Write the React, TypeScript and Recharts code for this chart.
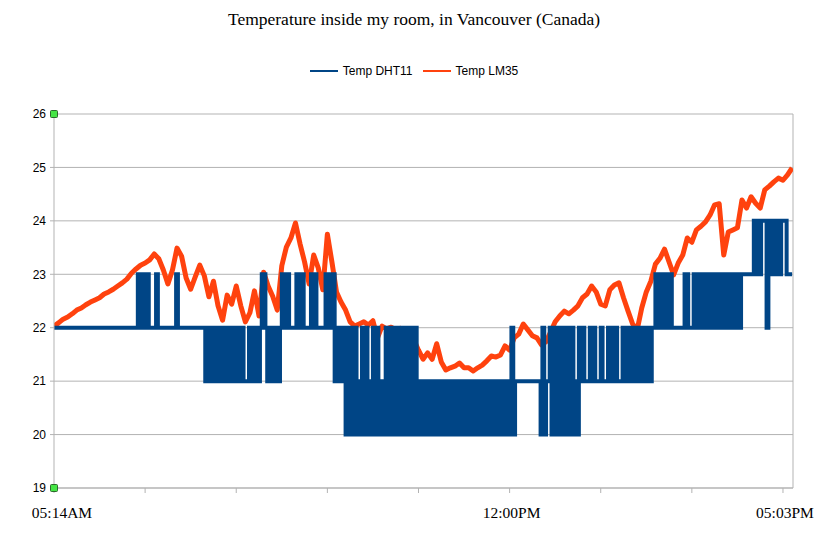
import {
  CartesianGrid,
  Line,
  LineChart,
  ReferenceDot,
  ReferenceLine,
  XAxis,
  YAxis,
} from "recharts";

const TITLE = "Temperature inside my room, in Vancouver (Canada)";
const SERIES_NAMES = ["Temp DHT11", "Temp LM35"];
const SERIES_COLORS = ["#004586", "#ff420e"];

// x positions are sample indexes along the category axis (0 = 05:14AM)
const X_TICKS = [0, 100, 200, 300, 400, 500, 600, 700, 800];
const X_TICK_LABELS = ["05:14AM", "", "", "", "", "12:00PM", "", "", "05:03PM"];
const Y_TICKS = [19, 20, 21, 22, 23, 24, 25, 26];

// DHT11 readings, one digit per sample (every 2 index units), value = 20 + digit
const DHT11_READINGS = [
  "2222222222222222222222222222222222222222222222",
  "33", "2", "3232", "222", "3", "2222222222", "3", "222222222222222",
  "121212121", "22", "1212121212", "111", "2121212", "33", "2", "12121212",
  "3", "2", "33", "2222", "33", "2", "3", "2222", "323", "22222", "32323",
  "121212", "020202", "101", "202", "010", "2020", "101", "20202020202020202",
  "1010101010101010101010101010101010101010101010101010",
  "2", "0", "11111111111111", "020", "11", "2020202020202", "010",
  "2121", "11", "2121", "11", "21", "11", "212121", "11", "21212121212121212",
  "2", "323232323", "2222222", "33", "222", "323232323232323232323232323",
  "333333", "44", "33", "444", "2", "44", "3", "44", "33", "444", "3333",
];
const DHT11_STEP = 2;

// LM35 readings, one value every 5 index units
const LM35_READINGS = [
  22.03, 22.09, 22.16, 22.2, 22.26, 22.33, 22.37, 22.43, 22.48, 22.52,
  22.56, 22.63, 22.67, 22.72, 22.78, 22.84, 22.91, 23.02, 23.1, 23.17,
  23.21, 23.27, 23.38, 23.29, 23.08, 22.82, 23.08, 23.49, 23.34, 22.93,
  22.72, 22.95, 23.17, 22.97, 22.58, 22.87, 22.41, 22.14, 22.61, 22.44,
  22.78, 22.41, 22.11, 22.28, 22.69, 22.22, 23.04, 22.78, 22.59, 22.33,
  23.16, 23.51, 23.68, 23.96, 23.57, 23.23, 22.82, 23.36, 23.12, 22.71,
  23.75, 23.23, 22.67, 22.48, 22.33, 22.11, 22.03, 22.07, 22.11, 22.05,
  22.13, 21.81, 22.03, 21.98, 22.01, 21.96, 21.99, 21.92, 21.88, 21.77,
  21.58, 21.41, 21.53, 21.41, 21.7, 21.36, 21.21, 21.25, 21.28, 21.34,
  21.25, 21.25, 21.19, 21.25, 21.3, 21.38, 21.47, 21.45, 21.49, 21.66,
  21.58, 21.81, 21.88, 22.07, 21.96, 21.85, 21.81, 21.68, 21.74, 21.92,
  22.11, 22.22, 22.31, 22.26, 22.33, 22.41, 22.56, 22.63, 22.78, 22.67,
  22.44, 22.41, 22.71, 22.8, 22.84, 22.56, 22.31, 22.07, 21.96, 22.37,
  22.67, 22.87, 23.19, 23.3, 23.47, 23.23, 22.99, 23.21, 23.36, 23.68,
  23.6, 23.83, 23.9, 23.98, 24.11, 24.3, 24.32, 23.36, 23.79, 23.83,
  23.87, 24.39, 24.24, 24.45, 24.33, 24.24, 24.58, 24.65, 24.73, 24.8,
  24.76, 24.86, 24.99,
];
const LM35_STEP = 5;

const dht11Data = DHT11_READINGS.join("")
  .split("")
  .map((d, i) => ({ x: i * DHT11_STEP, temp: 20 + Number(d) }));
const lm35Data = LM35_READINGS.map((v, i) => ({ x: i * LM35_STEP, temp: v }));

const GRID = "#b3b3b3";
const SANS = "'Liberation Sans', Arial, sans-serif";
const SERIF = "'Liberation Serif', 'Times New Roman', serif";

function XTick({ x, y, payload }: any) {
  const idx = X_TICKS.indexOf(payload.value);
  const label = X_TICK_LABELS[idx] ?? "";
  const shift = idx === 0 ? 8 : 2;
  return (
    <text
      x={x + shift}
      y={y}
      dy={23}
      textAnchor="middle"
      fontFamily={SERIF}
      fontSize={15.5}
      fill="#000"
    >
      {label}
    </text>
  );
}

function Marker({ cx, cy }: any) {
  return (
    <rect
      x={cx - 3.5}
      y={cy - 3.5}
      width={7}
      height={7}
      rx={1}
      fill="#45e545"
      stroke="#2b6b2b"
      strokeWidth={1}
    />
  );
}

export default function App() {
  return (
    <div
      style={{
        position: "absolute",
        left: 0,
        top: 0,
        width: 828,
        height: 539,
        background: "#fff",
      }}
    >
      <div
        style={{
          position: "absolute",
          top: 9,
          left: 0,
          width: 828,
          textAlign: "center",
          fontFamily: SERIF,
          fontSize: 17.5,
          color: "#000",
        }}
      >
        {TITLE}
      </div>
      <div
        style={{
          position: "absolute",
          top: 64,
          left: 0,
          width: 828,
          display: "flex",
          justifyContent: "center",
          gap: 10,
          fontFamily: SANS,
          fontSize: 12,
          color: "#000",
        }}
      >
        {SERIES_NAMES.map((name, i) => (
          <span key={name} style={{ display: "flex", alignItems: "center" }}>
            <span
              style={{
                display: "inline-block",
                width: 28,
                height: 2,
                background: SERIES_COLORS[i],
                marginRight: 5,
              }}
            />
            {name}
          </span>
        ))}
      </div>
      <LineChart
        width={828}
        height={539}
        margin={{ top: 114, right: 35, left: 10, bottom: 21 }}
      >
        <CartesianGrid stroke={GRID} vertical={false} />
        <XAxis
          type="number"
          dataKey="x"
          domain={[0, 811]}
          ticks={X_TICKS}
          interval={0}
          tick={<XTick />}
          tickSize={5}
          stroke={GRID}
          height={30}
          allowDataOverflow
        />
        <YAxis
          type="number"
          domain={[19, 26]}
          ticks={Y_TICKS}
          width={44}
          tickSize={4}
          tickMargin={4}
          stroke={GRID}
          tick={{ fontFamily: SANS, fontSize: 12, fill: "#000" }}
        />
        <ReferenceLine x={811} stroke={GRID} />
        <Line
          data={lm35Data}
          dataKey="temp"
          name={SERIES_NAMES[1]}
          type="linear"
          stroke={SERIES_COLORS[1]}
          strokeWidth={5}
          strokeLinejoin="round"
          dot={false}
          activeDot={false}
          isAnimationActive={false}
        />
        <Line
          data={dht11Data}
          dataKey="temp"
          name={SERIES_NAMES[0]}
          type="stepAfter"
          stroke={SERIES_COLORS[0]}
          strokeWidth={4}
          dot={false}
          activeDot={false}
          isAnimationActive={false}
        />
        <ReferenceDot x={0} y={26} r={4} shape={<Marker />} ifOverflow="visible" />
        <ReferenceDot x={0} y={19} r={4} shape={<Marker />} ifOverflow="visible" />
      </LineChart>
    </div>
  );
}
